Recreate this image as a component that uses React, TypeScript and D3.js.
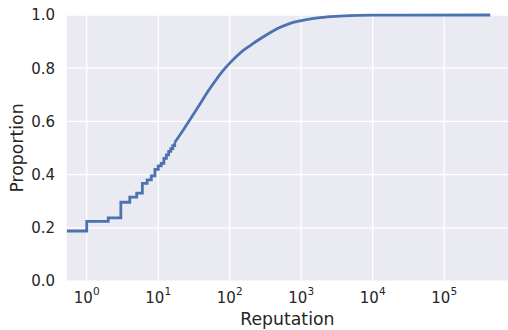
import React from "react";
import * as d3 from "d3";

// Step part of the ECDF (reputation value, proportion after step)
const stepReputation = [1, 2, 3, 4, 5, 6, 7, 8, 9, 10, 11, 12, 13, 14, 15, 16, 17];
const stepProportion = [0.224, 0.237, 0.296, 0.315, 0.330, 0.367, 0.380, 0.395, 0.420, 0.433, 0.442, 0.461, 0.474, 0.487, 0.498, 0.509, 0.52];
const startProportion = 0.188;
// Smooth part of the ECDF
const curveReputation = [18, 22.4, 31.6, 39.8, 50, 63, 79, 100, 126, 158, 200, 251, 316, 398, 501, 631, 794, 1000, 1585, 2512, 3981, 6310, 10000, 31623, 440000];
const curveProportion = [0.53, 0.568, 0.63, 0.672, 0.714, 0.753, 0.788, 0.819, 0.846, 0.869, 0.888, 0.906, 0.923, 0.939, 0.953, 0.964, 0.973, 0.979, 0.988, 0.994, 0.997, 0.9985, 0.9993, 0.9998, 1.0];

const xTicks = [1, 10, 100, 1000, 10000, 100000];
const yTicks = [0, 0.2, 0.4, 0.6, 0.8, 1.0];

const W = 508, H = 330;
const L = 66.7, R = 508, T = 15, B = 281;

export default function App() {
  const x = d3.scaleLog().domain([Math.pow(10, -0.28), Math.pow(10, 5.892)]).range([L, R]);
  const y = d3.scaleLinear().domain([0, 1]).range([B, T]);

  const stepPts: [number, number][] = [];
  stepPts.push([x.domain()[0], startProportion]);
  let prev = startProportion;
  stepReputation.forEach((v, i) => {
    stepPts.push([v, prev]);
    stepPts.push([v, stepProportion[i]]);
    prev = stepProportion[i];
  });
  const curvePts: [number, number][] = [[stepReputation[stepReputation.length - 1], prev]];
  curveReputation.forEach((v, i) => curvePts.push([v, curveProportion[i]]));

  const stepLine = d3.line<[number, number]>().x(d => x(d[0])).y(d => y(d[1])).curve(d3.curveLinear);
  const smoothLine = d3.line<[number, number]>().x(d => x(d[0])).y(d => y(d[1])).curve(d3.curveMonotoneX);
  const font = "DejaVu Sans, sans-serif";
  const fmt = d3.format(".1f");
  const c = "#262626";

  return (
    <svg width={W} height={H} style={{ position: "absolute", left: 0, top: 0 }} fontFamily={font}>
      <rect x={L} y={T} width={R - L} height={B - T} fill="#eaeaf2" />
      {xTicks.map(t => (
        <line key={"gx" + t} x1={x(t)} x2={x(t)} y1={T} y2={B} stroke="#fff" strokeWidth={1.25} />
      ))}
      {yTicks.map(t => (
        <line key={"gy" + t} x1={L} x2={R} y1={y(t)} y2={y(t)} stroke="#fff" strokeWidth={1.25} />
      ))}
      <defs>
        <clipPath id="clip"><rect x={L} y={T - 3} width={R - L} height={B - T + 6} /></clipPath>
      </defs>
      <g clipPath="url(#clip)" fill="none" stroke="#4c72b0" strokeWidth={2.8}>
        <path d={stepLine(stepPts) || ""} strokeLinejoin="miter" />
        <path d={smoothLine(curvePts) || ""} strokeLinejoin="round" />
      </g>
      {yTicks.map(t => (
        <text key={"ty" + t} x={55} y={y(t)} dy="0.36em" textAnchor="end" fontSize={15} fill={c}>{fmt(t)}</text>
      ))}
      {xTicks.map((t, i) => (
        <text key={"tx" + t} x={x(t)} y={303.3} textAnchor="middle" fontSize={15} fill={c}>
          10<tspan dy={-8} fontSize={10.5}>{String(i)}</tspan>
        </text>
      ))}
      <text x={(L + R) / 2} y={325} textAnchor="middle" fontSize={17.3} fill={c}>Reputation</text>
      <text transform={`translate(22.5,${(T + B) / 2}) rotate(-90)`} textAnchor="middle" fontSize={17.3} fill={c}>Proportion</text>
    </svg>
  );
}
